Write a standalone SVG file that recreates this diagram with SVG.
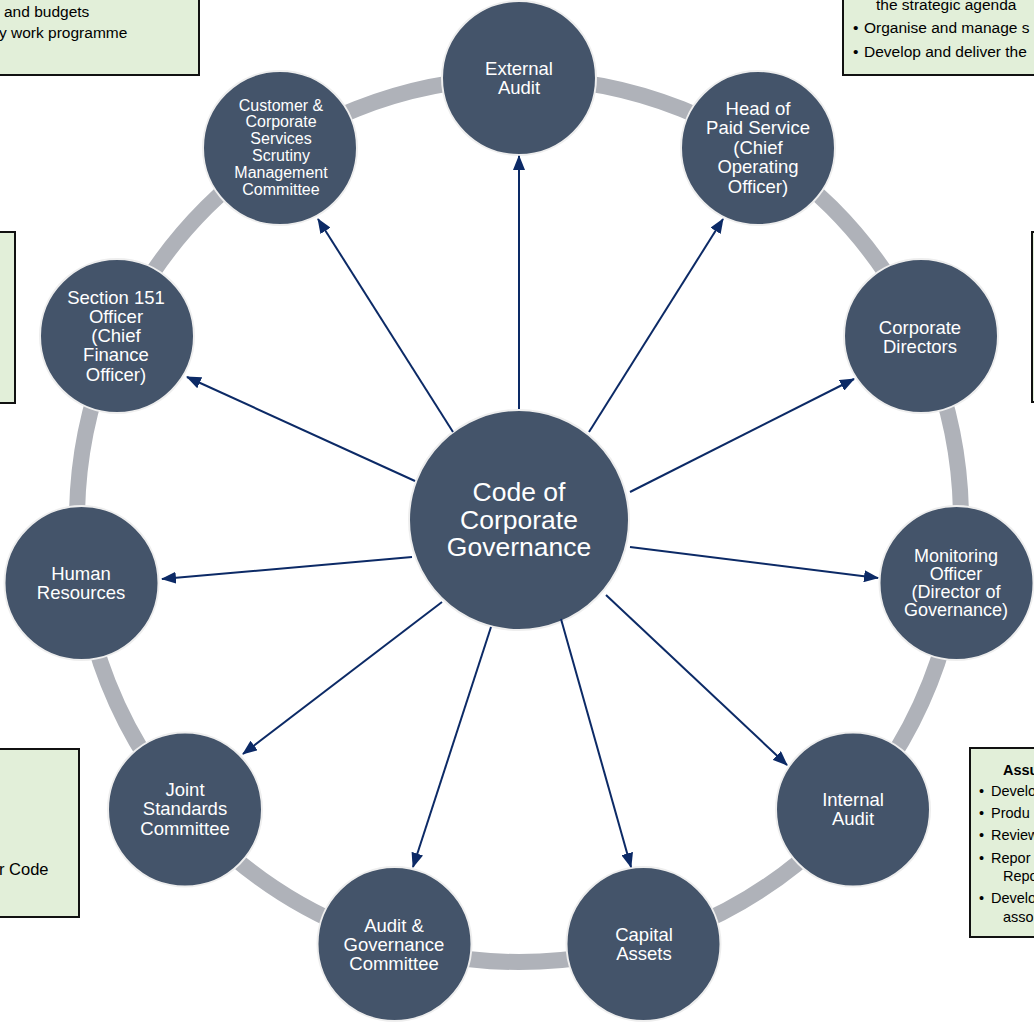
<svg xmlns="http://www.w3.org/2000/svg" width="1034" height="1024" viewBox="0 0 1034 1024">
<style>
  .box { fill: #e2efd9; stroke: #111111; stroke-width: 2; }
  .btxt { font-family: "Liberation Sans", Arial, sans-serif; font-size: 15.5px; fill: #000000; }
  .btxt14 { font-family: "Liberation Sans", Arial, sans-serif; font-size: 14.5px; fill: #000000; }
  .node { fill: #44546a; stroke: #eeeeee; stroke-width: 2; }
  .ntxt { font-family: "Liberation Sans", Arial, sans-serif; font-size: 18.5px; fill: #ffffff; text-anchor: middle; }
  .ring { fill: none; stroke: #afb2b9; stroke-width: 16; }
  .conn { stroke: #0c2a66; stroke-width: 2; fill: none; marker-end: url(#ah); }
</style>
<defs>
  <marker id="ah" markerUnits="userSpaceOnUse" markerWidth="15" markerHeight="12" refX="14" refY="6" orient="auto">
    <path d="M0,0 L15,6 L0,12 Z" fill="#0c2a66"/>
  </marker>
</defs>
<rect width="1034" height="1024" fill="#ffffff"/>

<g id="boxes">
  <g id="box-top-left">
    <rect class="box" x="-10" y="-10" width="209" height="85"/>
    <text class="btxt" x="4" y="17">and budgets</text>
    <text class="btxt" x="-1" y="38">y work programme</text>
  </g>
  <g id="box-top-right">
    <rect class="box" x="843" y="-10" width="205" height="85"/>
    <text class="btxt" x="876" y="10">the strategic agenda</text>
    <text class="btxt" x="853" y="33">•<tspan x="864">Organise and manage s</tspan></text>
    <text class="btxt" x="853" y="57">•<tspan x="864">Develop and deliver the</tspan></text>
  </g>
  <g id="box-left">
    <rect class="box" x="-10" y="232" width="25" height="171"/>
  </g>
  <g id="box-right">
    <rect class="box" x="1032" y="232" width="20" height="170"/>
  </g>
  <g id="box-bottom-left">
    <rect class="box" x="-10" y="749" width="89" height="168"/>
    <text class="btxt" x="-1" y="875" style="font-size:16.5px">r Code</text>
  </g>
  <g id="box-bottom-right">
    <rect class="box" x="970" y="748" width="80" height="189"/>
    <text class="btxt14" x="1003" y="775" font-weight="bold">Assu</text>
    <text class="btxt14" x="979" y="796">•<tspan x="991">Develo</tspan></text>
    <text class="btxt14" x="979" y="818">•<tspan x="991">Produ</tspan></text>
    <text class="btxt14" x="979" y="840">•<tspan x="991">Review</tspan></text>
    <text class="btxt14" x="979" y="863">•<tspan x="991">Repor</tspan></text>
    <text class="btxt14" x="1003" y="881">Repo</text>
    <text class="btxt14" x="979" y="903">•<tspan x="991">Develo</tspan></text>
    <text class="btxt14" x="1003" y="922">asso</text>
  </g>
</g>

<circle class="ring" cx="519" cy="520" r="442"/>

<g id="node-center">
  <circle class="node" cx="519" cy="520" r="110"/>
  <text class="ntxt" style="font-size:26.5px" x="519" y="501">Code of<tspan x="519" dy="27.5">Corporate</tspan><tspan x="519" dy="27.5">Governance</tspan></text>
</g>
<g id="node-external-audit">
  <circle class="node" cx="519" cy="78" r="77"/>
  <text class="ntxt" x="519" y="74.5">External<tspan x="519" dy="19">Audit</tspan></text>
</g>
<g id="node-head-of-paid-service">
  <circle class="node" cx="758" cy="148" r="77"/>
  <text class="ntxt" x="758" y="114.5">Head of<tspan x="758" dy="19.5">Paid Service</tspan><tspan x="758" dy="19.5">(Chief</tspan><tspan x="758" dy="19.5">Operating</tspan><tspan x="758" dy="19.5">Officer)</tspan></text>
</g>
<g id="node-corporate-directors">
  <circle class="node" cx="921" cy="336" r="77"/>
  <text class="ntxt" x="920" y="333.5">Corporate<tspan x="920" dy="19">Directors</tspan></text>
</g>
<g id="node-monitoring-officer">
  <circle class="node" cx="956.5" cy="583" r="77"/>
  <text class="ntxt" style="font-size:18px" x="956" y="561.5">Monitoring<tspan x="956" dy="18">Officer</tspan><tspan x="956" dy="18">(Director of</tspan><tspan x="956" dy="18">Governance)</tspan></text>
</g>
<g id="node-internal-audit">
  <circle class="node" cx="853" cy="809.5" r="77"/>
  <text class="ntxt" x="853" y="806">Internal<tspan x="853" dy="19">Audit</tspan></text>
</g>
<g id="node-capital-assets">
  <circle class="node" cx="643.5" cy="944" r="77"/>
  <text class="ntxt" x="644" y="940.5">Capital<tspan x="644" dy="19">Assets</tspan></text>
</g>
<g id="node-audit-governance">
  <circle class="node" cx="394.5" cy="944" r="77"/>
  <text class="ntxt" x="394" y="931.5">Audit &amp;<tspan x="394" dy="19">Governance</tspan><tspan x="394" dy="19">Committee</tspan></text>
</g>
<g id="node-joint-standards">
  <circle class="node" cx="185" cy="809.5" r="77"/>
  <text class="ntxt" x="185" y="795.5">Joint<tspan x="185" dy="19.5">Standards</tspan><tspan x="185" dy="19.5">Committee</tspan></text>
</g>
<g id="node-human-resources">
  <circle class="node" cx="81.5" cy="583" r="77"/>
  <text class="ntxt" x="81" y="579.5">Human<tspan x="81" dy="19">Resources</tspan></text>
</g>
<g id="node-section-151">
  <circle class="node" cx="117" cy="336" r="77"/>
  <text class="ntxt" x="116" y="303.5">Section 151<tspan x="116" dy="19.3">Officer</tspan><tspan x="116" dy="19.3">(Chief</tspan><tspan x="116" dy="19.3">Finance</tspan><tspan x="116" dy="19.3">Officer)</tspan></text>
</g>
<g id="node-customer-corporate">
  <circle class="node" cx="280" cy="148" r="77"/>
  <text class="ntxt" style="font-size:16px" x="281" y="110.5">Customer &amp;<tspan x="281" dy="16.8">Corporate</tspan><tspan x="281" dy="16.8">Services</tspan><tspan x="281" dy="16.8">Scrutiny</tspan><tspan x="281" dy="16.8">Management</tspan><tspan x="281" dy="16.8">Committee</tspan></text>
</g>

<g id="connectors">
  <line class="conn" x1="519" y1="409" x2="519" y2="156"/>
  <line class="conn" x1="589" y1="432" x2="723" y2="219"/>
  <line class="conn" x1="630" y1="492" x2="854" y2="379"/>
  <line class="conn" x1="630" y1="547" x2="878" y2="578"/>
  <line class="conn" x1="606" y1="595" x2="787" y2="765"/>
  <line class="conn" x1="561" y1="619" x2="631" y2="867"/>
  <line class="conn" x1="491" y1="627" x2="413" y2="867"/>
  <line class="conn" x1="442" y1="602" x2="243" y2="754"/>
  <line class="conn" x1="412" y1="557" x2="162" y2="579"/>
  <line class="conn" x1="415" y1="481" x2="187" y2="377"/>
  <line class="conn" x1="453" y1="432" x2="318" y2="219"/>
</g>
</svg>
